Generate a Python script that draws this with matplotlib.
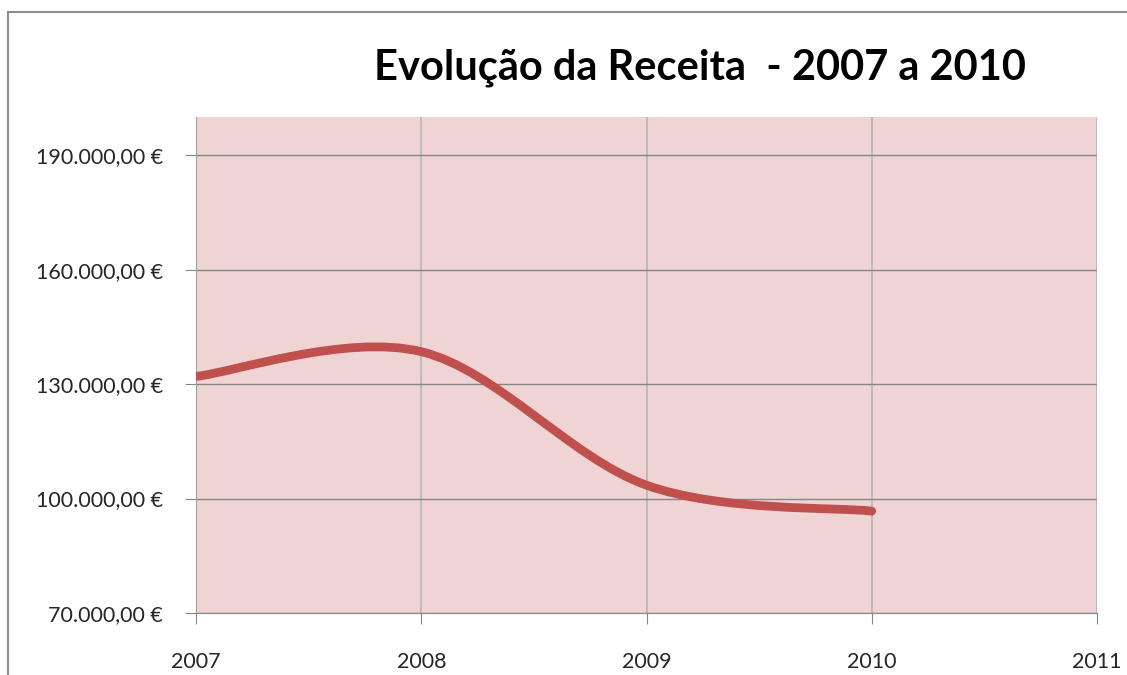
import numpy as np
import matplotlib.pyplot as plt
from matplotlib.path import Path
from matplotlib.patches import PathPatch
from matplotlib.lines import Line2D
from matplotlib.ticker import FuncFormatter

years = [2007, 2008, 2009, 2010]
receita = [132000, 138500, 103500, 96700]

y_ticks = [70000, 100000, 130000, 160000, 190000]
x_ticks = [2007, 2008, 2009, 2010, 2011]

title = 'Evolução da Receita  - 2007 a 2010'


def smooth_path(xs, ys):
    # excel style smoothed line: cubic bezier, catmull-rom control points
    pts = np.column_stack([xs, ys]).astype(float)
    n = len(pts)
    verts = [pts[0]]
    codes = [Path.MOVETO]
    for i in range(n - 1):
        p_prev = pts[i - 1] if i > 0 else pts[i]
        p_next = pts[i + 2] if i + 2 < n else pts[i + 1]
        c1 = pts[i] + (pts[i + 1] - p_prev) / 6
        c2 = pts[i + 1] - (p_next - pts[i]) / 6
        verts += [c1, c2, pts[i + 1]]
        codes += [Path.CURVE4] * 3
    return Path(verts, codes)


def euro(v, pos):
    s = f'{v:,.2f}'.replace(',', 'X').replace('.', ',').replace('X', '.')
    return s + ' €'


plt.rcParams['font.family'] = ['Lato', 'DejaVu Sans']

fig = plt.figure(figsize=(11.27, 6.75), dpi=100)
ax = fig.add_axes([196 / 1127, 1 - 613 / 675, 901 / 1127, 496 / 675])
ax.set_facecolor('#F0D4D4')

ax.set_xlim(2007, 2011)
ax.set_ylim(70000, 200000)
ax.set_xticks(x_ticks)
ax.set_yticks(y_ticks)
ax.yaxis.set_major_formatter(FuncFormatter(euro))
ax.xaxis.set_major_formatter(FuncFormatter(lambda v, p: f'{int(v)}'))

ax.grid(axis='y', color='#868686', linewidth=1.0)
ax.grid(axis='x', color='#B8B8B8', linewidth=1.3)
ax.set_axisbelow(True)

for side in ['top', 'right']:
    ax.spines[side].set_visible(False)
ax.spines['left'].set_color('#A0A0A0')
ax.spines['bottom'].set_color('#868686')

ax.tick_params(axis='both', direction='out', length=8, color='#868686',
               labelsize=15.5, labelcolor='#262626')
ax.tick_params(axis='x', pad=20)
ax.tick_params(axis='y', pad=16)

patch = PathPatch(smooth_path(years, receita), fill=False, edgecolor='#C0504D',
                  linewidth=6.3, capstyle='round', joinstyle='round', zorder=3)
ax.add_patch(patch)

fig.text(700 / 1127, 1 - 68 / 675, title, ha='center', va='center',
         fontsize=30, fontweight='bold', color='black')

# outer chart frame
fig.add_artist(Line2D([8 / 1127, 1], [1 - 12 / 675] * 2, color='#8C8C8C', linewidth=1.5))
fig.add_artist(Line2D([8 / 1127] * 2, [0, 1 - 12 / 675], color='#8C8C8C', linewidth=1.5))

fig.savefig('out.png', dpi=100)
